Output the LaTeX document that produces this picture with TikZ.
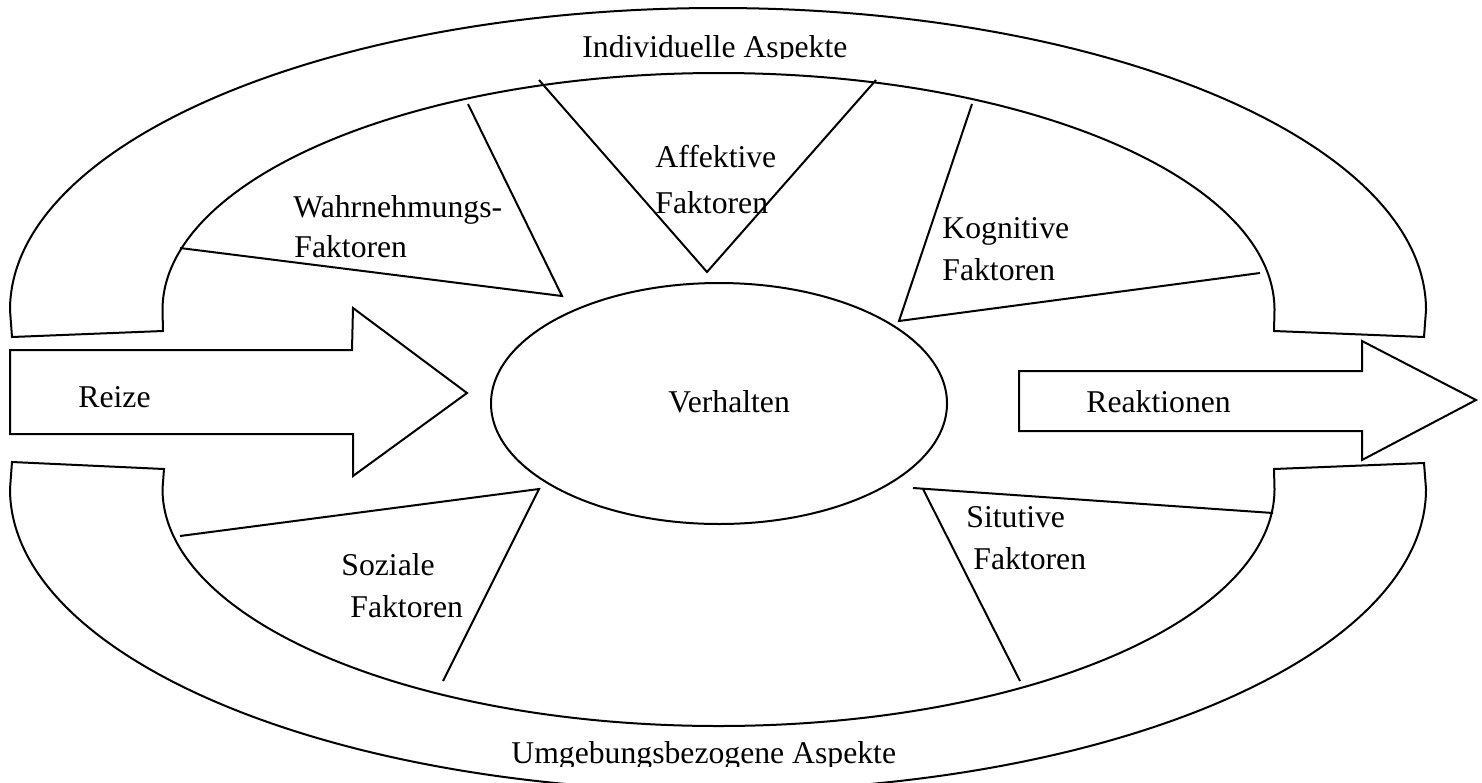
\documentclass[tikz,border=0pt]{standalone}
\usepackage{fontspec}
\setmainfont{Liberation Serif}
\begin{document}
\begin{tikzpicture}[x=0.5pt,y=-0.5pt,
  outline/.style={draw=black,line width=1pt,line join=miter},
  lbl/.style={anchor=base west,inner sep=0pt,font=\fontsize{15.85}{19}\selectfont}]
\useasboundingbox (0,0) rectangle (1482,782);
\begin{scope}
\clip (0,0) rectangle (1482,782);
% upper band (Individuelle Aspekte)
\draw[outline] (12,337) -- (10,310)
  arc[start angle=180,end angle=360,x radius=708,y radius=302]
  -- (1424,337) -- (1274,331) -- (1274.5,310)
  arc[start angle=0,end angle=-180,x radius=556,y radius=237]
  -- (163,331) -- cycle;
% lower band (Umgebungsbezogene Aspekte)
\draw[outline] (12,462) -- (10,489)
  arc[start angle=180,end angle=0,x radius=708,y radius=302]
  -- (1424,463) -- (1274,469) -- (1274.5,489)
  arc[start angle=0,end angle=180,x radius=556,y radius=237]
  -- (164,469) -- cycle;
\end{scope}
% factor wedges
\draw[outline] (468,104) -- (562,296) -- (180,248);
\draw[outline] (539,80) -- (707,272) -- (876,80);
\draw[outline] (972,104) -- (899,321) -- (1260,273);
\draw[outline] (180,536) -- (539,489) -- (443,681);
\draw[outline] (913,488) -- (1273,513);
\draw[outline] (923,489) -- (1020,681);
% input / output arrows
\draw[outline] (10,350) -- (352,350) -- (353,308) -- (467,393) -- (353,476) -- (353,434) -- (10,434) -- cycle;
\draw[outline] (1019,371) -- (1362,371) -- (1362,341) -- (1476,400) -- (1362,460) -- (1362,431) -- (1019,431) -- cycle;
% central ellipse
\draw[outline] (719,403.5) ellipse[x radius=228,y radius=120.5];
% labels
\begin{scope}
\clip (560,20) rectangle (880,58.5);
\node[lbl] (ind) at (582,57) {Individuelle Aspekte};
\end{scope}
\begin{scope}
\clip (480,720) rectangle (920,766);
\node[lbl] (umg) at (511,763) {Umgebungsbezogene Aspekte};
\end{scope}
\node[lbl] (wa1) at (293,217) {Wahrnehmungs-};
\node[lbl] (wa2) at (294,257) {Faktoren};
\node[lbl] (af1) at (655,167) {Affektive};
\node[lbl] (af2) at (655,213) {Faktoren};
\node[lbl] (ko1) at (942,238) {Kognitive};
\node[lbl] (ko2) at (942,280) {Faktoren};
\node[lbl] (rei) at (78,407) {Reize};
\node[lbl] (ver) at (668,412) {Verhalten};
\node[lbl] (rea) at (1086,412) {Reaktionen};
\node[lbl] (so1) at (341,575) {Soziale};
\node[lbl] (so2) at (350,617) {Faktoren};
\node[lbl] (si1) at (966,527) {Situtive};
\node[lbl] (si2) at (973,569) {Faktoren};
\end{tikzpicture}
\end{document}
